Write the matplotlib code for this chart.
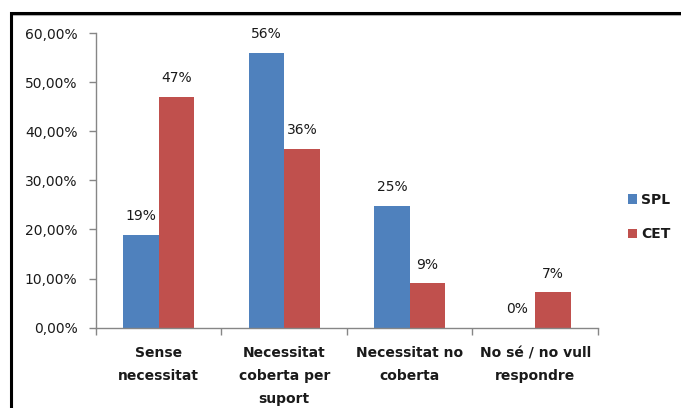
"""
plot.py

Bar chart of the perceived need for support, SPL vs. CET respondents.
Saves the figure as out.png.
"""

import matplotlib.pyplot as plt
import numpy as np
from matplotlib.patches import Rectangle
from matplotlib.ticker import FuncFormatter

categories = [
    "Sense\nnecessitat",
    "Necessitat\ncoberta per\nsuport",
    "Necessitat no\ncoberta",
    "No sé / no vull\nrespondre",
]
spl_values = [18.9, 56.0, 24.8, 0.0]
cet_values = [47.0, 36.4, 9.0, 7.2]
series_names = ["SPL", "CET"]

colors = ["#4F81BD", "#C0504D"]
axis_color = "#868686"
text_color = "#1a1a1a"


def label_bars(ax, bars, values):
    """Writes the rounded percentage above every bar."""
    for bar, value in zip(bars, values):
        ax.annotate(
            f"{value:.0f}%",
            xy=(bar.get_x() + bar.get_width() / 2, bar.get_height()),
            xytext=(0, 13.3),
            textcoords="offset points",
            ha="center",
            va="center",
            fontsize=10,
            color=text_color,
        )


def create_plot(file_path):
    fig = plt.figure(figsize=(6.81, 4.08), dpi=100)
    ax = fig.add_axes([0.141, 0.197, 0.737, 0.722])

    x = np.arange(len(categories))
    width = 0.283

    bars_spl = ax.bar(x - width / 2, spl_values, width, color=colors[0], label=series_names[0])
    bars_cet = ax.bar(x + width / 2, cet_values, width, color=colors[1], label=series_names[1])
    label_bars(ax, bars_spl, spl_values)
    label_bars(ax, bars_cet, cet_values)

    ax.set_xlim(-0.5, len(categories) - 0.5)
    ax.set_ylim(0, 60)
    ax.set_yticks(np.arange(0, 61, 10))
    ax.yaxis.set_major_formatter(
        FuncFormatter(lambda v, _: f"{v:.2f}".replace(".", ",") + "%")
    )

    # category labels at the centres, tick marks at the group boundaries
    ax.set_xticks(x)
    ax.set_xticklabels(categories, fontweight="bold", linespacing=1.78)
    ax.set_xticks(np.arange(len(categories) + 1) - 0.5, minor=True)
    ax.tick_params(axis="x", which="major", length=0, pad=13.5, colors=text_color, labelsize=10)
    ax.tick_params(axis="x", which="minor", length=5, color=axis_color, width=1)
    ax.tick_params(axis="y", length=5, color=axis_color, width=1, pad=8.4,
                   labelcolor=text_color, labelsize=10)

    for side in ["top", "right"]:
        ax.spines[side].set_visible(False)
    for side in ["left", "bottom"]:
        ax.spines[side].set_color(axis_color)
        ax.spines[side].set_linewidth(1)

    leg = fig.legend(
        loc="center left",
        bbox_to_anchor=(0.922, 0.468),
        frameon=False,
        borderpad=0,
        borderaxespad=0,
        handlelength=0.65,
        handleheight=0.65,
        handletextpad=0.3,
        labelspacing=1.45,
        fontsize=10,
    )
    for t in leg.get_texts():
        t.set_fontweight("bold")
        t.set_color(text_color)

    # outer frame with a soft grey shadow, cut off at the right and bottom edges
    fig.patches.append(Rectangle(
        (12 / 681, -0.1), 1.2, 1 - 14.5 / 408 + 0.1,
        transform=fig.transFigure, fill=False, edgecolor="#b0b0b0", linewidth=1.5,
    ))
    fig.patches.append(Rectangle(
        (11 / 681, -0.1), 1.2, 1 - 13 / 408 + 0.1,
        transform=fig.transFigure, fill=False, edgecolor="black", linewidth=2.2,
    ))

    fig.savefig(file_path, dpi=100)


if __name__ == "__main__":
    plt.rcParams.update({"font.family": "DejaVu Sans"})
    create_plot("out.png")
